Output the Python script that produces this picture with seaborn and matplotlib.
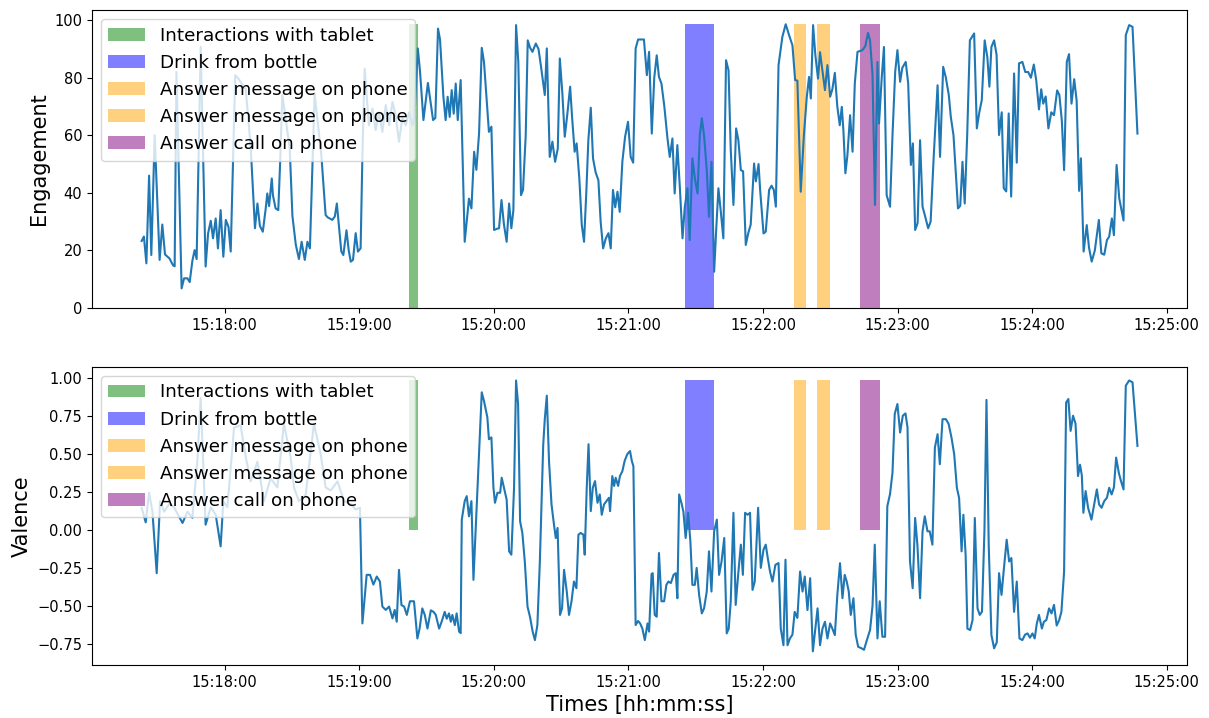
import pandas as pd
import matplotlib
matplotlib.use('Agg')
import matplotlib.pyplot as plt
import matplotlib.dates as mdates
import seaborn as sns

# Tiempos en segundos desde las 15:17:00
eng_t = [23.0, 24.0, 25.1, 26.3, 27.3, 28.8, 31.0, 32.2, 33.4, 35.4, 37.0, 37.7, 38.5, 40.8, 41.9, 43.4, 44.4, 45.6,
         46.6, 47.5, 49.3, 51.5, 52.6, 53.8, 54.8, 56.0, 57.0, 58.2, 59.4, 60.5, 61.7, 62.7, 64.7, 66.3, 69.4, 71.6,
         73.5, 74.6, 75.7, 77.0, 78.3, 79.0, 79.8, 81.0, 81.5, 82.7, 83.9, 84.7, 85.7, 89.0, 90.2, 91.7, 93.1, 94.3,
         95.7, 96.9, 98.0, 100.1, 103.1, 105.0, 105.9, 108.0, 109.1, 110.0, 112.0, 112.9, 114.3, 115.3, 116.2, 117.2,
         118.4, 119.4, 120.6, 121.4, 122.4, 124.3, 125.9, 127.3, 128.8, 130.3, 131.8, 133.3, 134.8, 136.2, 137.7,
         139.2, 140.7, 142.2, 143.7, 144.5, 146.1, 147.1, 148.6, 150.6, 152.9, 153.9, 155.1, 156.0, 157.5, 158.5,
         159.4, 160.3, 161.2, 162.1, 163.0, 163.9, 165.2, 167.0, 168.9, 170.0, 171.2, 172.2, 173.4, 174.6, 175.6,
         177.8, 178.9, 180.1, 181.3, 182.3, 183.4, 184.5, 185.7, 186.8, 187.8, 188.7, 189.9, 190.9, 192.1, 193.0,
         194.2, 195.1, 196.1, 197.2, 198.7, 199.9, 201.0, 202.7, 203.6, 204.9, 206.1, 207.3, 208.5, 209.4, 210.5,
         211.6, 212.7, 214.0, 214.9, 216.0, 216.9, 218.1, 219.2, 220.2, 221.2, 222.1, 223.2, 224.2, 225.4, 226.6,
         227.6, 228.7, 229.9, 231.1, 232.1, 233.1, 234.1, 235.1, 236.1, 237.3, 238.5, 239.8, 241.0, 242.1, 243.2,
         244.3, 246.9, 248.2, 249.2, 250.4, 251.5, 252.6, 253.6, 254.7, 256.0, 257.4, 258.4, 259.6, 260.6, 261.8,
         262.9, 264.1, 265.1, 266.3, 267.3, 268.5, 269.6, 270.8, 271.8, 272.7, 273.7, 274.9, 275.9, 277.0, 278.2,
         279.1, 280.1, 281.1, 282.3, 283.5, 284.6, 285.6, 286.8, 288.0, 289.0, 290.1, 291.1, 292.3, 293.4, 294.5,
         296.0, 296.8, 298.0, 298.7, 300.2, 301.2, 302.7, 303.8, 304.8, 305.7, 306.9, 308.6, 310.1, 311.6, 313.1,
         314.3, 315.3, 316.8, 318.2, 319.5, 320.5, 321.3, 322.3, 323.3, 324.5, 325.4, 326.4, 327.6, 328.7, 329.9,
         330.9, 332.0, 333.1, 334.2, 335.1, 335.8, 336.7, 337.6, 338.8, 339.9, 340.9, 342.1, 344.3, 345.6, 346.8,
         347.7, 348.8, 349.9, 351.0, 351.7, 352.9, 353.9, 355.1, 356.6, 357.7, 358.9, 359.9, 361.1, 362.1, 363.6,
         364.7, 365.9, 366.8, 367.8, 368.9, 370.0, 371.1, 372.2, 373.6, 374.7, 376.1, 377.8, 378.9, 380.3, 381.5,
         382.8, 383.7, 384.9, 385.9, 386.9, 387.9, 388.9, 389.9, 391.0, 392.2, 394.1, 395.3, 396.4, 397.5, 398.8,
         400.0, 400.9, 401.8, 403.0, 404.1, 405.2, 406.4, 407.3, 408.4, 409.5, 410.6, 411.9, 413.1, 414.1, 415.6,
         416.9, 418.2, 419.4, 420.7, 421.8, 423.0, 424.0, 424.9, 426.0, 427.2, 428.5, 429.7, 431.1, 432.1, 433.2,
         434.2, 435.4, 436.4, 437.5, 438.7, 439.8, 440.9, 441.7, 442.9, 444.3, 445.3, 446.5, 447.9, 449.7, 450.8,
         452.1, 453.3, 454.3, 455.5, 456.4, 457.6, 458.8, 460.7, 461.7, 463.2, 464.7, 466.9]
engagement = [23.3, 24.8, 15.5, 46, 18.4, 60, 16.7, 29, 18.6, 17.2, 14.8, 14.5, 82, 6.8, 10.3, 10.3, 9, 16.4,
              20.1, 17, 90.7, 14.4, 25.9, 30.3, 24.2, 31.1, 20.7, 34, 17.8, 30.6, 28.2, 19.6, 80.9, 79.5, 76, 56,
              27.7, 36.3, 28.5, 26.5, 34.6, 39.8, 35.4, 45, 39.2, 34.6, 34, 50, 74, 55.4, 32, 22, 17, 23,
              16.7, 23, 20.7, 74.5, 53, 32.3, 31.5, 30.6, 31.8, 36.3, 19.6, 18.4, 27, 20, 16.1, 16.7,
              26, 19.6, 20.7, 53, 83.2, 63.5, 69.3, 61.8, 68, 61.2, 70.5, 63.5, 71.6, 67, 57.8,
              66, 63.5, 68, 63.5, 65, 90.2, 82, 65.3, 78.2, 65.3, 66, 97.1, 93.3, 73.4, 65.3,
              73.4, 66.4, 75.7, 67.5, 78, 65.3, 79.2, 23, 38, 34.6, 54.3, 48, 60.6, 90.4, 85.5,
              61.2, 63, 27.1, 27.5, 27.7, 37.5, 29, 23, 36.3, 27.7, 34, 98.3, 85.5, 39.2, 41,
              60, 93, 90.5, 89, 91.9, 90, 84, 74, 90.2, 52.5, 57.8, 50.8, 55.4, 86.7, 75,
              59.5, 67, 76.9, 66, 54.3, 57.2, 45, 28.8, 23, 40, 58, 69.6, 52, 47, 44.4,
              30, 20.7, 24.2, 26, 20.7, 41, 35, 40.4, 33.4, 51, 59.5, 64.7, 52.5, 50.5, 90.2,
              93.3, 93.3, 80.9, 89, 60.6, 80, 87.8, 80.3, 78, 70, 58.9, 52.5, 58.9, 39.8, 56.6,
              42, 24.2, 35, 41.6, 23.6, 52, 45, 39.8, 60, 65.9, 60, 48, 31.7, 50.8, 12.6,
              27, 41.6, 34, 24.2, 86.1, 82.6, 55, 35.8, 62.4, 58.3, 47.9, 47.5, 21.9, 26, 29,
              50.2, 44, 50, 41, 25.9, 26.5, 41, 42.5, 41, 35.2, 84.4, 94.2, 98.6, 94.8, 91.3,
              79.2, 79, 40.4, 60, 73.4, 80.3, 72.8, 98.3, 88, 79.7, 88.9, 83, 75.7, 84.4, 73.4,
              76, 81.7, 70, 63.5, 69.9, 62, 46.8, 53, 67, 54.3, 78, 89, 89.6, 91, 95.6,
              93, 81, 35.8, 85.5, 64.1, 80, 90.7, 39.2, 35.2, 60, 82, 89.6, 78.6, 83.5, 85.5,
              78, 49.7, 57.2, 27.1, 29.5, 58.3, 35.2, 32, 27.7, 30, 53, 77.4, 52.5, 83.8, 80,
              74, 66.4, 60, 47.5, 34.6, 35.5, 50.8, 36.3, 60, 93, 95.4, 62.4, 68, 72.2, 93,
              87, 76.9, 90.7, 93, 88, 60.1, 68, 41.6, 40.5, 67.6, 38.7, 81.5, 50.5, 85, 85.5,
              82, 82, 80, 84.6, 79, 69, 76, 71, 73.5, 62.4, 68, 67, 75.6, 74, 65,
              47.9, 85.5, 88.2, 71, 79.5, 72, 40.7, 52, 19.6, 28.8, 21, 16.1, 20, 30.6, 19,
              18.5, 23.6, 24.8, 31.1, 25.3, 49.7, 38, 30.4, 94.8, 98.3, 97.7, 60.6]

val_t = [23.0, 24.8, 26.3, 27.8, 29.7, 31.2, 33.0, 35.2, 37.4, 41.2, 43.4, 45.6, 47.8, 49.3, 51.5, 53.8, 56.0,
         58.2, 59.4, 61.2, 64.2, 67.1, 69.4, 71.6, 74.6, 77.5, 80.5, 83.5, 86.4, 89.4, 90.9, 93.1, 96.1, 99.8,
         102.8, 105.0, 107.3, 110.3, 113.2, 116.2, 118.4, 120.3, 121.4, 123.3, 124.8, 126.3, 127.8, 129.2, 130.3,
         131.8, 133.3, 134.8, 135.8, 136.7, 137.7, 138.8, 140.0, 141.2, 142.6, 144.4, 145.9, 146.9, 148.1, 149.2,
         150.4, 151.9, 153.1, 154.1, 155.6, 156.6, 158.1, 159.0, 160.0, 160.8, 161.5, 162.6, 163.4, 164.5, 165.2,
         165.7, 167.0, 167.9, 168.9, 170.0, 170.9, 171.9, 172.9, 174.6, 175.6, 177.1, 177.8, 178.9, 179.8, 180.5,
         181.6, 182.8, 183.5, 184.5, 185.7, 186.8, 187.8, 189.0, 189.9, 190.8, 191.7, 192.7, 193.8, 195.0, 196.1,
         197.3, 198.3, 199.4, 200.5, 202.0, 202.7, 203.6, 204.6, 205.7, 206.8, 207.6, 208.4, 209.5, 210.4, 211.3,
         212.5, 213.5, 214.6, 215.7, 216.8, 217.7, 218.7, 219.9, 220.5, 221.4, 222.2, 223.2, 224.1, 225.1, 226.2,
         227.2, 228.1, 229.1, 230.2, 231.3, 231.8, 232.8, 233.6, 234.3, 235.4, 236.2, 237.3, 238.3, 239.5, 240.7,
         241.5, 242.2, 243.2, 244.3, 245.2, 246.2, 247.3, 248.5, 249.2, 250.3, 250.8, 251.7, 252.6, 253.6, 254.7,
         255.9, 256.9, 257.8, 258.9, 260.1, 261.1, 261.8, 262.6, 263.6, 264.5, 265.5, 266.6, 267.6, 268.5, 269.6,
         270.4, 271.5, 272.7, 273.7, 274.9, 275.9, 277.0, 278.2, 279.4, 280.4, 281.5, 282.7, 283.8, 284.7, 285.6,
         286.8, 287.8, 288.9, 290.1, 291.0, 292.0, 293.1, 294.2, 295.3, 296.3, 297.8, 299.0, 300.2, 301.2, 302.1,
         303.1, 304.2, 305.5, 306.9, 307.9, 309.1, 310.0, 310.9, 312.0, 313.1, 314.1, 315.3, 316.5, 317.6, 318.6,
         319.8, 321.0, 322.2, 323.0, 324.3, 325.4, 326.5, 327.6, 328.7, 329.9, 330.9, 332.0, 333.1, 334.3, 335.4,
         336.4, 337.3, 338.2, 339.1, 340.3, 341.3, 342.4, 343.9, 345.0, 346.2, 347.7, 348.8, 349.8, 351.0, 352.0,
         353.2, 354.4, 355.4, 356.6, 357.7, 358.7, 359.9, 361.1, 362.3, 363.5, 364.4, 365.5, 366.7, 367.8, 368.8,
         370.0, 371.1, 372.1, 373.3, 374.3, 375.5, 376.6, 377.8, 378.8, 380.0, 381.5, 382.7, 384.0, 385.2, 386.4,
         387.4, 388.5, 389.3, 390.3, 391.1, 392.3, 393.4, 394.4, 395.6, 396.6, 397.6, 398.7, 399.6, 400.6, 401.8,
         403.0, 404.2, 405.2, 406.3, 407.4, 408.6, 409.7, 410.7, 411.9, 413.1, 414.3, 415.6, 416.8, 417.9, 419.0,
         420.1, 421.1, 422.0, 423.0, 424.3, 425.2, 426.3, 427.5, 428.6, 429.7, 430.9, 432.0, 433.0, 434.2, 435.1,
         436.1, 437.1, 438.2, 439.3, 440.4, 441.3, 442.1, 442.8, 443.8, 444.9, 446.4, 447.6, 448.8, 449.8, 450.9,
         452.1, 453.3, 454.3, 455.4, 456.4, 457.4, 458.6, 459.6, 460.7, 461.7, 463.2, 464.7, 466.9]
valence = [0.146, 0.05, 0.245, 0.12, -0.285, 0.19, 0.12, 0.17, 0.15, 0.046, 0.12, 0.08, 0.45, 0.87, 0.035, 0.15, 0.1,
           -0.108, 0.19, 0.15, 0.675, 0.69, 0.48, 0.32, 0.45, 0.19, 0.34, 0.28, 0.70, 0.48, 0.28, 0.19, 0.23, 0.70,
           0.5, 0.28, 0.26, 0.32, 0.19, 0.17, 0.135, 0.146, -0.616, -0.296, -0.296, -0.36, -0.307, -0.34, -0.505,
           -0.527, -0.505, -0.583, -0.527, -0.605, -0.263, -0.495, -0.505, -0.56, -0.47, -0.47, -0.715, -0.65, -0.517, -0.56,
           -0.65, -0.53, -0.54, -0.56, -0.65, -0.61, -0.54, -0.585, -0.55, -0.605, -0.56, -0.627, -0.55, -0.67, -0.68,
           0.068, 0.19, 0.223, 0.09, 0.19, -0.329, 0.0, 0.34, 0.907, 0.85, 0.742, 0.598, 0.61, 0.28, 0.179,
           0.245, 0.245, 0.344, 0.278, 0.2, -0.141, -0.163, 0.278, 0.985, 0.83, 0.057, -0.02, -0.21, -0.505, -0.572,
           -0.67, -0.726, -0.627, -0.21, 0.56, 0.73, 0.885, 0.45, 0.168, 0.035, -0.053, 0.013, -0.56, -0.516, -0.263,
           -0.406, -0.56, -0.472, -0.34, -0.384, -0.031, -0.02, -0.031, -0.163, 0.278, 0.565, 0.124, 0.278, 0.322, 0.179,
           0.234, 0.1, 0.168, 0.19, 0.212, 0.124, 0.355, 0.29, 0.344, 0.29, 0.355, 0.388, 0.455, 0.5, 0.52,
           0.455, 0.42, -0.627, -0.6, -0.616, -0.65, -0.726, -0.616, -0.67, -0.29, -0.285, -0.56, -0.572, -0.152, -0.47,
           -0.47, -0.362, -0.34, -0.35, -0.296, -0.285, -0.45, 0.234, 0.179, 0.12, -0.053, 0.113, -0.075, -0.362, -0.362,
           -0.25, -0.428, -0.55, -0.517, -0.406, -0.141, -0.406, -0.009, 0.068, -0.296, -0.208, -0.053, -0.682, -0.65, -0.47,
           0.113, -0.494, -0.296, -0.097, -0.296, 0.113, 0.1, 0.113, -0.395, -0.34, 0.146, -0.25, -0.13, -0.097, -0.185,
           -0.274, -0.34, -0.23, -0.218, -0.65, -0.76, -0.196, -0.76, -0.715, -0.69, -0.54, -0.58, -0.274, -0.406, -0.307,
           -0.528, -0.318, -0.8, -0.69, -0.517, -0.76, -0.65, -0.605, -0.715, -0.616, -0.65, -0.693, -0.43, -0.219, -0.45,
           -0.296, -0.34, -0.406, -0.56, -0.45, -0.69, -0.77, -0.78, -0.79, -0.73, -0.66, -0.5, -0.097, -0.715, -0.47,
           -0.704, -0.704, 0.157, 0.236, 0.377, 0.764, 0.83, 0.642, 0.753, 0.768, 0.675, -0.207, -0.384, 0.079, -0.097,
           -0.45, -0.01, 0.09, -0.009, -0.009, -0.097, 0.543, 0.631, 0.433, 0.73, 0.73, 0.7, 0.609, 0.5, 0.278,
           0.21, -0.141, 0.1, -0.163, -0.65, -0.66, -0.594, 0.079, -0.517, -0.56, -0.539, 0.0, 0.857, -0.1, -0.693,
           -0.78, -0.74, -0.285, -0.428, -0.25, -0.064, -0.208, -0.185, -0.54, -0.34, -0.715, -0.726, -0.69, -0.682, -0.71,
           -0.682, -0.715, -0.62, -0.56, -0.65, -0.605, -0.594, -0.517, -0.55, -0.494, -0.63, -0.594, -0.54, -0.274, 0.84,
           0.863, 0.653, 0.753, 0.7, 0.355, 0.43, 0.36, 0.113, 0.256, 0.146, 0.068, 0.168, 0.267, 0.168, 0.146,
           0.19, 0.212, 0.278, 0.234, 0.28, 0.477, 0.376, 0.32, 0.267, 0.951, 0.985, 0.973, 0.554]

# Actividades anotadas
act_labels = ['Interactions with tablet', 'Drink from bottle', 'Answer message on phone',
              'Answer message on phone', 'Answer call on phone']
act_start = ['15:19:22', '15:21:25', '15:22:14', '15:22:24', '15:22:43']
act_end = ['15:19:26', '15:21:38', '15:22:19', '15:22:30', '15:22:52']
act_colors = ['green', 'blue', 'orange', 'orange', 'purple']

base = pd.Timestamp('2021-01-01 15:17:00')
eng_time = base + pd.to_timedelta(eng_t, unit='s')
val_time = base + pd.to_timedelta(val_t, unit='s')
starts = pd.to_datetime(['2021-01-01 ' + s for s in act_start])
ends = pd.to_datetime(['2021-01-01 ' + s for s in act_end])

fig, axes = plt.subplots(2, 1, figsize=(12.09, 7.18), dpi=100)
fig.subplots_adjust(left=0.076, right=0.982, top=0.986, bottom=0.074, hspace=0.198)

series = [(eng_time, engagement, 'Engagement'), (val_time, valence, 'Valence')]
for ax, (tt, vv, name) in zip(axes, series):
    sns.lineplot(x=tt, y=vv, ax=ax, color='#1f77b4', linewidth=1.5, zorder=3)
    top = max(vv)
    for s, e, lab, col in zip(starts, ends, act_labels, act_colors):
        x0 = mdates.date2num(s)
        w = mdates.date2num(e) - x0
        ax.bar(x0, top, width=w, align='edge', color=col, alpha=0.5, label=lab, zorder=2)
    ax.set_ylabel(name, fontsize=15)
    ax.set_xlabel('')
    ax.xaxis.set_major_locator(mdates.MinuteLocator())
    ax.xaxis.set_major_formatter(mdates.DateFormatter('%H:%M:%S'))
    ax.tick_params(labelsize=10.5)
    ax.legend(loc='upper left', fontsize=13.2)

axes[1].set_xlabel('Times [hh:mm:ss]', fontsize=15)

plt.savefig('out.png', dpi=100)
